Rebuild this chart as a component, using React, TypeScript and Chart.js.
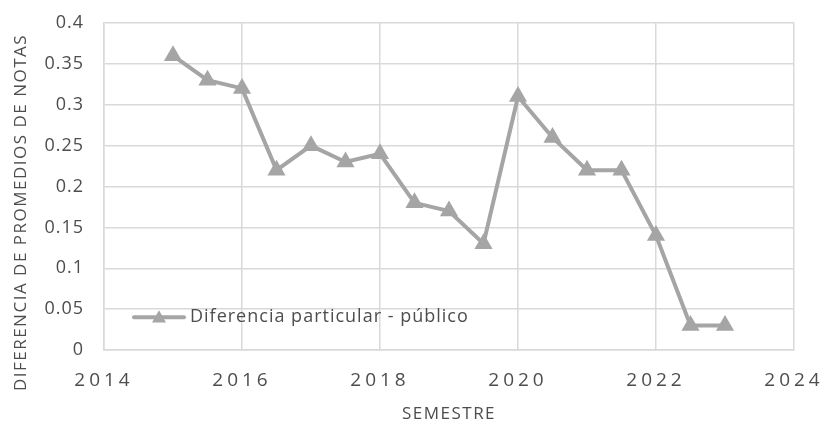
import React, { useEffect, useRef } from "react";
import { Chart, registerables } from "chart.js";

Chart.register(...registerables);

const seriesLabel = "Diferencia particular - público";
const semesters = [2015, 2015.5, 2016, 2016.5, 2017, 2017.5, 2018, 2018.5, 2019, 2019.5, 2020, 2020.5, 2021, 2021.5, 2022, 2022.5, 2023];
const differences = [0.36, 0.33, 0.32, 0.22, 0.25, 0.23, 0.24, 0.18, 0.17, 0.13, 0.31, 0.26, 0.22, 0.22, 0.14, 0.03, 0.03];
const xTitle = "SEMESTRE";
const yTitle = "DIFERENCIA DE PROMEDIOS DE NOTAS";

const GRAY = "#a5a5a5";
const TEXT = "#4d4d4d";
const FONT = "'Open Sans', 'Noto Sans', sans-serif";

function patch(scale: any, method: string, spacing: string, dy = 0) {
  const orig = scale[method];
  scale[method] = function (...args: any[]) {
    const ctx = this.ctx;
    ctx.save();
    ctx.letterSpacing = spacing;
    if (dy) ctx.translate(0, dy);
    orig.apply(this, args);
    ctx.restore();
  };
}

const spacingPlugin = {
  id: "letterSpacing",
  afterLayout(chart: any) {
    const sx = chart.scales.x;
    const sy = chart.scales.y;
    if (sx && !sx.__patched) {
      patch(sx, "drawLabels", "4px");
      patch(sx, "drawTitle", "1.5px");
      sx.__patched = true;
    }
    if (sy && !sy.__patched) {
      patch(sy, "drawLabels", "1px");
      patch(sy, "drawTitle", "1.5px", 26);
      sy.__patched = true;
    }
  },
};

const legendPlugin = {
  id: "innerLegend",
  afterDraw(chart: any) {
    const ctx = chart.ctx;
    const area = chart.chartArea;
    const sy = chart.scales.y;
    const ds = chart.data.datasets[0];
    const x0 = area.left + 30;
    const y = sy.getPixelForValue(0.04);
    ctx.save();
    ctx.strokeStyle = GRAY;
    ctx.lineWidth = 4;
    ctx.lineCap = "round";
    ctx.beginPath();
    ctx.moveTo(x0, y);
    ctx.lineTo(x0 + 50, y);
    ctx.stroke();
    ctx.fillStyle = GRAY;
    ctx.beginPath();
    const cx = x0 + 25;
    const r = 7;
    ctx.moveTo(cx, y - r);
    ctx.lineTo(cx + r, y + r * 0.75);
    ctx.lineTo(cx - r, y + r * 0.75);
    ctx.closePath();
    ctx.fill();
    ctx.fillStyle = TEXT;
    ctx.font = `18px ${FONT}`;
    ctx.letterSpacing = "1px";
    ctx.textBaseline = "middle";
    ctx.textAlign = "left";
    ctx.fillText(ds.label, x0 + 56, y);
    ctx.restore();
  },
};

export default function App() {
  const ref = useRef<HTMLCanvasElement | null>(null);
  useEffect(() => {
    if (!ref.current) return;
    const chart = new Chart(ref.current, {
      type: "line",
      data: {
        datasets: [
          {
            label: seriesLabel,
            data: semesters.map((s, i) => ({ x: s, y: differences[i] })),
            borderColor: GRAY,
            backgroundColor: GRAY,
            borderWidth: 4,
            pointStyle: "triangle",
            pointRadius: 10.5,
            pointBorderWidth: 0,
            pointBackgroundColor: GRAY,
            tension: 0,
          },
        ],
      },
      options: {
        animation: false,
        responsive: false,
        layout: { padding: { left: 0, right: 30, top: 23, bottom: 0 } },
        plugins: { legend: { display: false }, tooltip: { enabled: false } },
        scales: {
          x: {
            type: "linear",
            min: 2014,
            max: 2024,
            afterFit: (s: any) => {
              s.height = 74;
              s.paddingLeft = 0;
              s.paddingRight = 0;
            },
            ticks: { stepSize: 2, color: TEXT, font: { family: FONT, size: 19 }, padding: 19, callback: (v: any) => String(v) },
            grid: { color: "#d9d9d9", lineWidth: 1.5, drawTicks: false },
            border: { color: "#d9d9d9", width: 1.5 },
            title: { display: true, text: xTitle, color: TEXT, font: { family: FONT, size: 17 }, padding: { top: 6, bottom: 0 } },
          },
          y: {
            min: 0,
            max: 0.4,
            afterFit: (s: any) => {
              s.width = 104;
              s.paddingTop = 0;
              s.paddingBottom = 0;
            },
            ticks: { stepSize: 0.05, color: TEXT, font: { family: FONT, size: 18 }, padding: 20, callback: (v: any) => String(Math.round(v * 100) / 100) },
            grid: { color: "#d9d9d9", lineWidth: 1.5, drawTicks: false },
            border: { color: "#d9d9d9", width: 1.5 },
            title: { display: true, text: yTitle, color: TEXT, font: { family: FONT, size: 17 }, padding: { top: 11, bottom: 6 } },
          },
        },
      },
      plugins: [spacingPlugin, legendPlugin],
    });
    return () => chart.destroy();
  }, []);
  return (
    <div style={{ position: "absolute", left: 0, top: 0, width: 824, height: 424, background: "#fff" }}>
      <canvas ref={ref} width={824} height={424} style={{ width: 824, height: 424 }} />
    </div>
  );
}
